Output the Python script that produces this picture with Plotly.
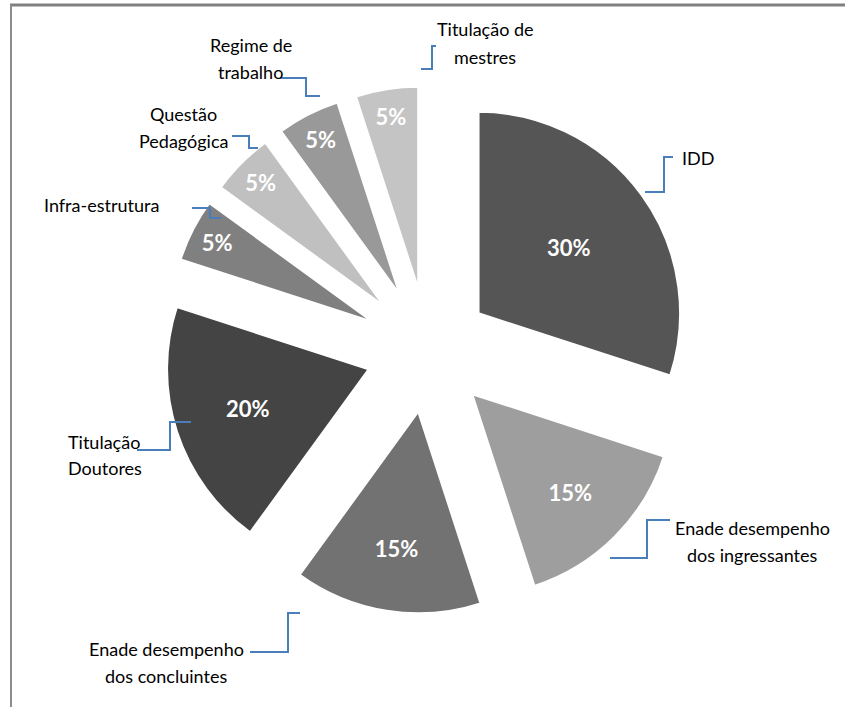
import plotly.graph_objects as go

# ---- data ----
labels = ["IDD", "Enade desempenho<br>dos ingressantes", "Enade desempenho<br>dos concluintes",
          "Titulação<br>Doutores", "Infra-estrutura", "Questão<br>Pedagógica",
          "Regime de<br>trabalho", "Titulação de<br>mestres"]
values = [30, 15, 15, 20, 5, 5, 5, 5]
colors = ["#555555", "#9e9e9e", "#727272", "#444444", "#808080", "#c0c0c0", "#999999", "#c4c4c4"]

# ---- layout helpers (pixel -> paper) ----
W, H = 845, 707
def px(x):
    return x / W
def py(y):
    return 1 - y / H

# label positions (pixel centre, anchor) and leader-line paths (pixel)
label_pos = [
    (698, 158, "center"),
    (752, 541, "center"),
    (166, 662, "center"),
    (66, 455, "left"),
    (101, 205, "center"),
    (183, 128, "center"),
    (251, 58, "center"),
    (485, 43, "center"),
]
leaders = [
    [(645, 192), (664, 192), (664, 157), (673, 157)],
    [(610, 558), (647, 558), (647, 520), (670, 520)],
    [(250, 652), (288, 652), (288, 613), (300, 613)],
    [(137, 450), (170, 450), (170, 422), (191, 422)],
    [(192, 208), (210, 208), (210, 218), (221, 218)],
    [(232, 136), (249, 136), (249, 148), (258, 148)],
    [(280, 78), (306, 78), (306, 96), (320, 96)],
    [(421, 69), (432, 69), (432, 46), (436, 46)],
]

cx, cy, half = 428, 350, 264

fig = go.Figure(go.Pie(
    labels=[l.replace("<br>", " ") for l in labels],
    values=values,
    sort=False,
    direction="clockwise",
    rotation=0,
    pull=0.31,
    textinfo="percent",
    textposition="inside",
    insidetextorientation="horizontal",
    insidetextfont=dict(family="Lato, Liberation Sans, sans-serif", size=22, color="white", weight="bold"),
    marker=dict(colors=colors, line=dict(color="white", width=2)),
    showlegend=False,
    domain=dict(x=[px(cx - half), px(cx + half)], y=[py(cy + half), py(cy - half)]),
))

annotations = []
for lab, (x, y, anchor) in zip(labels, label_pos):
    lines = lab.split("<br>")
    n = len(lines)
    for i, line in enumerate(lines):
        yy = y + (i - (n - 1) / 2) * 27
        annotations.append(dict(
            x=px(x), y=py(yy), xref="paper", yref="paper", text=line, showarrow=False,
            xanchor=anchor, yanchor="middle",
            font=dict(family="Lato, Liberation Sans, sans-serif", size=18, color="black"),
        ))

shapes = []
for pts in leaders:
    path = "M " + " L ".join(f"{px(a):.5f},{py(b):.5f}" for a, b in pts)
    shapes.append(dict(type="path", path=path, xref="paper", yref="paper",
                       line=dict(color="#4a7ebb", width=2)))
# frame lines
shapes.append(dict(type="line", xref="paper", yref="paper", x0=px(10), x1=1, y0=py(5), y1=py(5),
                   line=dict(color="#808080", width=3)))
shapes.append(dict(type="line", xref="paper", yref="paper", x0=px(11), x1=px(11), y0=py(5), y1=0,
                   line=dict(color="#8c8c8c", width=2)))

fig.update_layout(
    width=W, height=H,
    margin=dict(l=0, r=0, t=0, b=0),
    paper_bgcolor="white", plot_bgcolor="white",
    annotations=annotations, shapes=shapes,
)

fig.write_html("out.html")
